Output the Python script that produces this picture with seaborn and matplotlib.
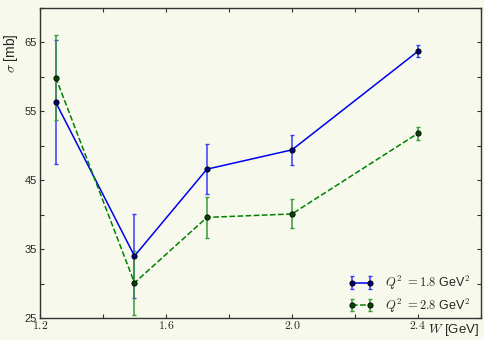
import matplotlib
matplotlib.use('Agg')
import matplotlib.pyplot as plt
import seaborn as sns
import pandas as pd
from matplotlib.ticker import MultipleLocator, FuncFormatter

# data
w_gev = [1.25, 1.5, 1.73, 2.0, 2.4]
sigma_q18 = [56.3, 34.0, 46.6, 49.4, 63.7]
err_q18 = [9.0, 6.1, 3.6, 2.2, 0.85]
sigma_q28 = [59.9, 30.1, 39.6, 40.1, 51.8]
err_q28 = [6.2, 4.6, 3.0, 2.1, 0.9]
labels = [r'$Q^2$ $=1.8$ GeV$^2$', r'$Q^2$ $=2.8$ GeV$^2$']

bg = '#f6f9ec'
sns.set_theme(style='ticks')
plt.rcParams['font.family'] = ['Liberation Sans', 'DejaVu Sans']
plt.rcParams['mathtext.fontset'] = 'cm'
plt.rcParams['xtick.direction'] = 'in'
plt.rcParams['ytick.direction'] = 'in'

df = pd.DataFrame({'W': w_gev * 2,
                   'sigma': sigma_q18 + sigma_q28,
                   'err': err_q18 + err_q28,
                   'Q2': [labels[0]] * 5 + [labels[1]] * 5})

fig = plt.figure(figsize=(4.85, 3.4), dpi=100, facecolor=bg)
ax = fig.add_axes([0.0825, 0.0647, 0.909, 0.912], facecolor=bg)

styles = [
    dict(color='#0000ee', ls='-', face='#00007a', ecol='#3a3aff'),
    dict(color='#008000', ls='--', face='#004a00', ecol='#3a9a3a'),
]

handles = []
for lab, st in zip(labels, styles):
    sub = df[df['Q2'] == lab]
    sns.lineplot(data=sub, x='W', y='sigma', ax=ax, color=st['color'],
                 linestyle=st['ls'], linewidth=1.1, marker='o', markersize=3.8,
                 markerfacecolor=st['face'], markeredgecolor='black',
                 markeredgewidth=0.6, legend=False, errorbar=None)
    line = ax.lines[-1]
    eb = ax.errorbar(sub['W'], sub['sigma'], yerr=sub['err'], fmt='none',
                     ecolor=st['ecol'], elinewidth=1.1, capsize=1.7,
                     capthick=1.0, zorder=1.5)
    handles.append((eb, line))

ax.set_xlim(1.2, 2.6)
ax.set_ylim(25, 70)
ax.xaxis.set_major_locator(MultipleLocator(0.2))
ax.yaxis.set_major_locator(MultipleLocator(5))

def xfmt(v, pos):
    k = round((v - 1.2) / 0.2)
    if k % 2 == 0 and v < 2.5:
        return r'$%.1f$' % v
    return ''

def yfmt(v, pos):
    k = round((v - 25) / 5)
    if k % 2 == 0 and v < 68:
        return '%d' % v
    return ''

ax.xaxis.set_major_formatter(FuncFormatter(xfmt))
ax.yaxis.set_major_formatter(FuncFormatter(yfmt))
ax.tick_params(axis='both', which='major', length=3, width=0.8, color='#333333',
               labelsize=8, top=True, right=True, pad=2)
ax.tick_params(axis='x', labelsize=8.5, pad=1.5)
for sp in ax.spines.values():
    sp.set_color('#333333')
    sp.set_linewidth(1.0)

ax.set_xlabel(r'$W$ [GeV]', fontsize=9.5, ha='right')
ax.xaxis.set_label_coords(0.997, -0.012)
ax.set_ylabel(r'$\sigma$ [mb]', fontsize=10, va='bottom')
ax.yaxis.set_label_coords(-0.045, 0.855)

ax.legend(handles, labels, loc='lower right', frameon=False, numpoints=2,
          fontsize=9, handlelength=2.0, handletextpad=0.9,
          labelspacing=0.35, bbox_to_anchor=(1.0, -0.025))

fig.savefig('out.png', dpi=100, facecolor=bg)
